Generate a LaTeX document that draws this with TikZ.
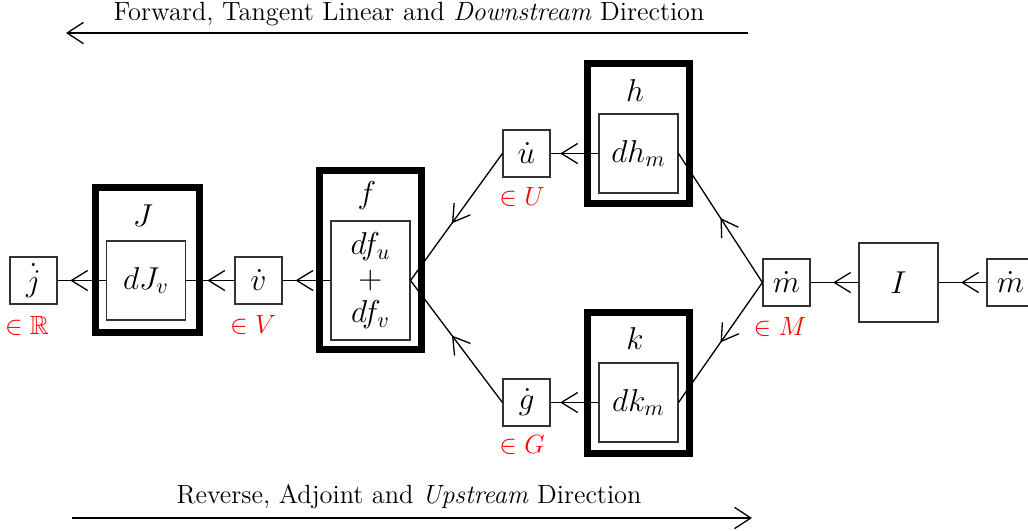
\documentclass[tikz,border=0pt]{standalone}
\usepackage{amssymb}
\usetikzlibrary{arrows.meta,decorations.markings}

\begin{document}
\begin{tikzpicture}[
  x=0.016cm, y=-0.016cm,
  sbox/.style={draw=black!80, line width=0.6pt, minimum width=7.5mm, minimum height=7.5mm, inner sep=0pt, font=\fontsize{14}{15.5}\selectfont},
  ibox/.style={sbox, minimum width=12.6mm, minimum height=12.6mm},
  fnbox/.style={draw, line width=3.4pt, minimum width=16.3mm, inner sep=0pt},
  fname/.style={font=\fontsize{14}{15.5}\selectfont},
  setlab/.style={text=red, font=\fontsize{12}{14}\selectfont},
  dirtext/.style={font=\fontsize{12}{14}\selectfont},
  dirarrow/.style={line width=0.6pt, -{Straight Barb[length=2.6mm,width=3.4mm]}},
  flow/.style={line width=0.6pt, postaction={decorate}, decoration={markings,
    mark=at position #1 with {\arrow[line width=0.6pt]{Straight Barb[length=2.6mm,width=3.2mm]}}}},
  flow/.default=0.5
]
\useasboundingbox (0,0) rectangle (1028,531);

% direction arrows
\coordinate (fwdS) at (748,33);
\coordinate (fwdE) at (66,33);
\node[dirtext] (fwdtxt) at (409,14) {Forward, Tangent Linear and \emph{Downstream} Direction};
\coordinate (revS) at (72,518);
\coordinate (revE) at (752,518);
\node[dirtext] (revtxt) at (409,497) {Reverse, Adjoint and \emph{Upstream} Direction};
\draw[dirarrow] (fwdS) -- (fwdE);
\draw[dirarrow] (revS) -- (revE);

% J
\node[sbox] (jd) at (33.5,280.5) {$\dot{j}$};
\node[setlab] (jset) at (27,326) {$\in\mathbb{R}$};
\node[fnbox, minimum width=16.6mm, minimum height=23.2mm] (Jout) at (147.5,260) {};
\node[ibox] (dJ) at (146,280.5) {$dJ_v$};
\node[fname] (Jname) at (143,216) {$J$};

% f
\node[sbox] (vd) at (258.5,280.5) {$\dot{v}$};
\node[setlab] (vset) at (253,325) {$\in V$};
\node[fnbox, minimum height=28.6mm] (fout) at (370.5,260) {};
\node[ibox, minimum height=19mm, align=center] (df) at (370.5,280.5) {$df_u$\\$+$\\$df_v$};
\node[fname] (fname) at (367,196) {$f$};

% h and k
\node[sbox] (ud) at (526.5,153.5) {$\dot{u}$};
\node[setlab] (uset) at (522,197) {$\in U$};
\node[sbox] (gd) at (526.5,402.5) {$\dot{g}$};
\node[setlab] (gset) at (522,445) {$\in G$};
\node[fnbox, minimum height=22.4mm] (hout) at (638.5,133.5) {};
\node[ibox] (dh) at (638.5,153.5) {$dh_m$};
\node[fname] (hname) at (635,91) {$h$};
\node[fnbox, minimum height=22.5mm] (kout) at (638.5,383) {};
\node[ibox] (dk) at (638.5,402.5) {$dk_m$};
\node[fname] (kname) at (635,339) {$k$};

% m and I
\node[sbox] (md) at (786.5,282.5) {$\dot{m}$};
\node[setlab] (mset) at (780,327) {$\in M$};
\node[ibox] (Ibox) at (898.5,282.5) {$I$};
\node[sbox] (md2) at (1010.5,282.5) {$\dot{m}$};

% connectors
\draw[flow=0.74] (dJ) -- (jd);
\draw[flow=0.56] (vd) -- (dJ);
\draw[flow=0.73] (df) -- (vd);
\draw[flow=0.55] (ud.west) -- (df.east);
\draw[flow=0.55] (gd.west) -- (df.east);
\draw[flow=0.8] (dh) -- (ud);
\draw[flow=0.8] (dk) -- (gd);
\draw[flow] (md.west) -- (dh.east);
\draw[flow] (md.west) -- (dk.east);
\draw[flow=0.53] (Ibox) -- (md);
\draw[flow=0.53] (md2) -- (Ibox);
\end{tikzpicture}
\end{document}
